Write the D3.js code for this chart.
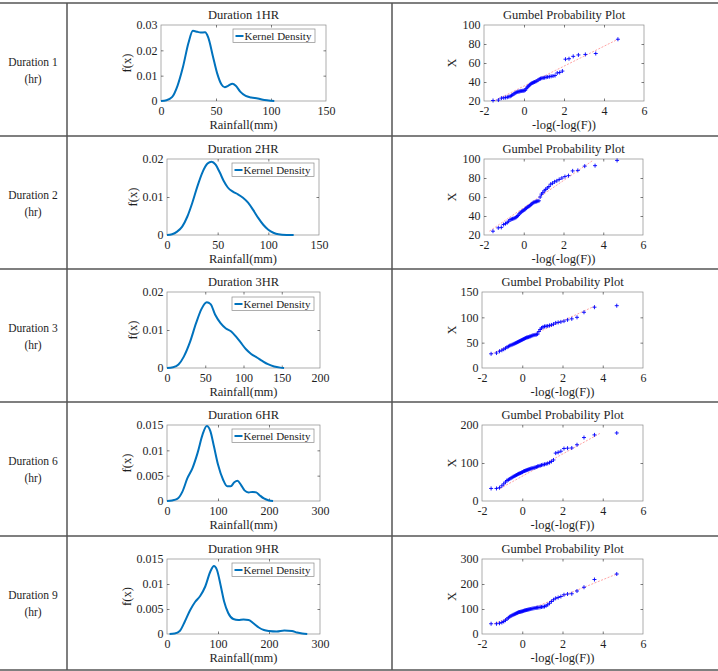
<!DOCTYPE html>
<meta charset="utf-8">
<style>
body { margin: 0; background: #fff; }
svg text { font-family: "Liberation Serif", "Times New Roman", serif; fill: #1e1e1e; }
.tick line { stroke: #262626; stroke-width: 0.6; }
</style>
<body>
<script src="https://cdn.jsdelivr.net/npm/d3@7"></script>
<script>

// ---- data ----
var rowLabels = ["Duration 1", "Duration 2", "Duration 3", "Duration 6", "Duration 9"];
var kdeTitles = ["Duration 1HR", "Duration 2HR", "Duration 3HR", "Duration 6HR", "Duration 9HR"];

// kernel density curves: [rainfall (mm), f(x)]
var kde1 = [[0,0],[5,0.0003],[10,0.0015],[15,0.006],[20,0.0135],[25,0.023],[29,0.0277],[33,0.0273],[36,0.027],[40,0.0271],[43,0.025],[47,0.018],[51,0.011],[55,0.0065],[58,0.0054],[61,0.006],[65,0.0068],[68,0.006],[72,0.0037],[77,0.002],[82,0.0014],[88,0.001],[94,0.0004],[100,0.0001],[103,0]];
var kde2 = [[0,0],[5,0.0002],[10,0.0009],[15,0.0022],[20,0.0048],[25,0.0085],[30,0.0128],[35,0.0165],[40,0.0188],[44,0.0193],[48,0.0185],[52,0.0165],[56,0.0142],[60,0.0125],[65,0.0114],[70,0.0107],[75,0.0098],[80,0.0085],[85,0.0066],[90,0.0045],[95,0.0027],[100,0.0014],[105,0.0006],[110,0.0002],[118,0.00003],[125,0]];
var kde3 = [[0,0],[8,0.0002],[15,0.0009],[22,0.003],[30,0.0068],[38,0.0118],[45,0.0155],[52,0.0173],[57,0.0168],[63,0.014],[70,0.0118],[77,0.0104],[84,0.0096],[90,0.0083],[96,0.0068],[103,0.005],[110,0.0037],[118,0.0027],[125,0.0018],[132,0.001],[140,0.0004],[148,0.0001],[153,0]];
var kde6 = [[0,0],[10,0.0001],[20,0.0004],[30,0.0018],[40,0.0045],[50,0.0065],[60,0.0095],[70,0.0132],[78,0.0148],[85,0.0138],[92,0.0108],[100,0.0072],[110,0.0042],[118,0.0029],[125,0.0029],[132,0.0037],[138,0.004],[145,0.0032],[152,0.0021],[160,0.0017],[168,0.0018],[175,0.0017],[182,0.0011],[190,0.0005],[200,0.0001],[208,0]];
var kde9 = [[5,0],[15,0.0001],[25,0.0006],[35,0.0025],[45,0.0047],[55,0.0064],[65,0.0076],[75,0.0095],[85,0.0125],[92,0.0136],[98,0.0128],[105,0.0098],[112,0.0065],[120,0.0042],[130,0.003],[140,0.0028],[150,0.0029],[160,0.0028],[170,0.0021],[180,0.0013],[190,0.0008],[200,0.0006],[215,0.0005],[230,0.0007],[245,0.0006],[255,0.0003],[265,0.0001],[275,0]];

// Gumbel reduced variate -log(-log(F)) of the 55 ranked values
var reducedVariate = [-1.548,-1.281,-1.129,-1.013,-0.918,-0.834,-0.759,-0.689,-0.625,-0.563,-0.504,-0.448,-0.393,-0.340,-0.288,-0.236,-0.186,-0.136,-0.086,-0.036,0.013,0.063,0.112,0.162,0.212,0.263,0.314,0.367,0.419,0.473,0.528,0.585,0.642,0.702,0.763,0.826,0.892,0.960,1.031,1.106,1.184,1.267,1.356,1.450,1.552,1.663,1.784,1.920,2.073,2.250,2.461,2.721,3.068,3.588,4.696];

// ranked annual maximum rainfall X (mm)
var gumbel1 = [20.5,21,23,23.3,23.6,24,24.5,25,25.8,26.5,27.5,28.3,29,29.5,29.8,30,30.3,30.5,30.7,30.8,31,31.5,33,34.5,35.5,36.5,37.5,38.5,39,39.5,40,40.5,41,42,43,43.5,44,44.3,44.6,45,45.3,45.6,46,46.3,46.8,49.5,50,51.5,64,64.5,67,68.5,69,70,85];
var gumbel2 = [24,27.5,28,31,32,33,34.5,36,36.5,37,37.3,37.8,38.5,39.5,40.5,42,43,44,45,45.5,46.3,47,48,49,49.5,50.3,51,52,53,54,54.5,55,55.3,55.6,56,60,63,64.5,66.5,68,69.5,71,73.5,74.5,76,77,78.5,80,81.5,82.5,87.5,88,92.5,93,98.5];
var gumbel3 = [28,29.5,33,35,37,39,41,42.5,44,45,46,47,48,49,50,51,52,53,54,55,56,57,58,59,60,60.5,61,62,62.5,63.5,64.5,65,65.5,66,67,72,76,79,81,82,82.5,83,84,85,86.5,89,90,91,92.5,95,97,100,110,120,123];
var gumbel6 = [33,33,35,40,45,50,54,56,58,60,62,64,65.5,67,68.5,70,71.5,72.5,73.5,75,76,78,79,80,81,82,83,84,85,86,86.5,87.5,88.5,89.5,91,92,93,94.5,95.5,96.5,97.5,99,101,104,108,126,128,131,138,139,139.5,148,167,174,179];
var gumbel9 = [41,41,43,46,50,55,60,65,69,72,75,77,79,81,83,85,87,88,89,90,91,92.5,94,95,96,97,98,99,100,101,102,103,104,105,105.5,106,107,108,109,110,113,117,123,130,137,143,146,150,157,160,161,172,187,218,240];

// reference line end points [reduced variate, X]
var refLine1 = [[-1.45,20.5],[4.70,85]];
var refLine2 = [[-1.73,24],[3.48,98.5]];
var refLine3 = [[-1.52,28],[3.64,123]];
var refLine6 = [[-1.10,33],[3.90,179]];
var refLine9 = [[-1.40,41],[4.70,240]];

// ticks
var kdeXTicks = [[0,50,100,150],[0,50,100,150],[0,50,100,150,200],[0,100,200,300],[0,100,200,300]];
var kdeYTicks = [[0,0.01,0.02,0.03],[0,0.01,0.02],[0,0.01,0.02],[0,0.005,0.01,0.015],[0,0.005,0.01,0.015]];
var gumXTicks = [-2,0,2,4,6];
var gumYTicks = [[20,40,60,80,100],[20,40,60,80,100],[0,50,100,150],[0,100,200],[0,100,200,300]];

var kdeData = [kde1, kde2, kde3, kde6, kde9];
var gumData = [gumbel1, gumbel2, gumbel3, gumbel6, gumbel9];
var refLines = [refLine1, refLine2, refLine3, refLine6, refLine9];

// ---- layout (pixels) ----
var rowY = [3, 136, 269, 402, 536, 670];
var kdeBox = [
  {l:161, r:326, t:25,  b:101, lx:233, ly:29,  fy:127},
  {l:167, r:319, t:159, b:235, lx:232, ly:163, fy:133},
  {l:167, r:320, t:292, b:368, lx:232, ly:297, fy:133},
  {l:167, r:320, t:425, b:501, lx:232, ly:429, fy:127},
  {l:167, r:320, t:559, b:634, lx:232, ly:563, fy:127}
];
var gumBox = [
  {l:484, r:644, t:25,  b:101},
  {l:484, r:643, t:159, b:235},
  {l:482, r:643, t:292, b:368},
  {l:482, r:643, t:425, b:501},
  {l:482, r:643, t:559, b:634}
];

var svg = d3.select("body").append("svg")
    .attr("width", 718)
    .attr("height", 671);

// table rules
svg.selectAll("line.row")
    .data(rowY)
  .enter().append("line")
    .attr("x1", 0).attr("x2", 718)
    .attr("y1", function(d) { return d; })
    .attr("y2", function(d) { return d; })
    .attr("stroke", "#555").attr("stroke-width", 1.5);

[67, 392].forEach(function(x) {
  svg.append("line")
      .attr("x1", x).attr("x2", x)
      .attr("y1", rowY[0]).attr("y2", rowY[5])
      .attr("stroke", "#555").attr("stroke-width", 1.5);
});

// row labels
rowLabels.forEach(function(lab, i) {
  svg.append("text").attr("x", 33).attr("y", rowY[i] + 63)
      .attr("text-anchor", "middle").style("font-size", "11.5px").text(lab);
  svg.append("text").attr("x", 33).attr("y", rowY[i] + 80)
      .attr("text-anchor", "middle").style("font-size", "11.5px").text("(hr)");
});

function fmt(d) { return String(d); }

function frame(g, box, x, y, xt, yt) {
  g.append("rect")
      .attr("x", box.l).attr("y", box.t)
      .attr("width", box.r - box.l).attr("height", box.b - box.t)
      .attr("fill", "none").attr("stroke", "#8a8a8a").attr("stroke-width", 0.7);

  var xa = g.append("g").attr("transform", "translate(0," + box.b + ")")
      .call(d3.axisBottom(x).tickValues(xt).tickSize(-2.5).tickPadding(5.5).tickFormat(fmt));
  var xa2 = g.append("g").attr("transform", "translate(0," + box.t + ")")
      .call(d3.axisTop(x).tickValues(xt).tickSize(-2.5).tickFormat(""));
  var ya = g.append("g").attr("transform", "translate(" + box.l + ",0)")
      .call(d3.axisLeft(y).tickValues(yt).tickSize(-2.5).tickPadding(3.5).tickFormat(fmt));
  var ya2 = g.append("g").attr("transform", "translate(" + box.r + ",0)")
      .call(d3.axisRight(y).tickValues(yt).tickSize(-2.5).tickFormat(""));

  [xa, xa2, ya, ya2].forEach(function(a) {
    a.select(".domain").remove();
    a.selectAll("text").style("font-size", "12px").attr("fill", "#1e1e1e")
        .style("font-family", "'Liberation Serif', serif");
  });
  // drop end ticks that sit on the frame
  [xa, xa2].forEach(function(a) {
    a.selectAll(".tick line").filter(function(d) { return d === xt[0] || d === xt[xt.length - 1]; }).remove();
  });
  [ya, ya2].forEach(function(a) {
    a.selectAll(".tick line").filter(function(d) { return d === yt[0] || d === yt[yt.length - 1]; }).remove();
  });
}

// ---- kernel density panels ----
kdeData.forEach(function(data, i) {
  var box = kdeBox[i];
  var xt = kdeXTicks[i], yt = kdeYTicks[i];
  var x = d3.scaleLinear().domain([xt[0], xt[xt.length - 1]]).range([box.l, box.r]);
  var y = d3.scaleLinear().domain([yt[0], yt[yt.length - 1]]).range([box.b, box.t]);
  var g = svg.append("g");

  frame(g, box, x, y, xt, yt);

  g.append("path")
      .datum(data)
      .attr("fill", "none")
      .attr("stroke", "#0072BD")
      .attr("stroke-width", 2)
      .attr("d", d3.line()
          .curve(d3.curveMonotoneX)
          .x(function(d) { return x(d[0]); })
          .y(function(d) { return y(d[1]); }));

  g.append("text").attr("x", (box.l + box.r) / 2).attr("y", box.t - 6)
      .attr("text-anchor", "middle").style("font-size", "12.5px").text(kdeTitles[i]);
  g.append("text").attr("x", (box.l + box.r) / 2).attr("y", box.b + 28)
      .attr("text-anchor", "middle").style("font-size", "12.5px").text("Rainfall(mm)");
  g.append("text")
      .attr("transform", "translate(" + box.fy + "," + (box.t + box.b) / 2 + ") rotate(-90)")
      .attr("dy", "0.35em")
      .attr("text-anchor", "middle").style("font-size", "12.5px").text("f(x)");

  // legend
  var lg = g.append("g").attr("transform", "translate(" + box.lx + "," + box.ly + ")");
  lg.append("rect").attr("width", 82).attr("height", 13.5)
      .attr("fill", "#fff").attr("stroke", "#8a8a8a").attr("stroke-width", 0.7);
  lg.append("line").attr("x1", 2.5).attr("x2", 10.5).attr("y1", 7).attr("y2", 7)
      .attr("stroke", "#0072BD").attr("stroke-width", 2);
  lg.append("text").attr("x", 11.5).attr("y", 10.5).style("font-size", "11px").text("Kernel Density");
});

// ---- Gumbel probability panels ----
gumData.forEach(function(vals, i) {
  var box = gumBox[i];
  var yt = gumYTicks[i];
  var x = d3.scaleLinear().domain([-2, 6]).range([box.l, box.r]);
  var y = d3.scaleLinear().domain([yt[0], yt[yt.length - 1]]).range([box.b, box.t]);
  var g = svg.append("g");

  frame(g, box, x, y, gumXTicks, yt);

  var ref = refLines[i];
  g.append("line")
      .attr("x1", x(ref[0][0])).attr("y1", y(ref[0][1]))
      .attr("x2", x(ref[1][0])).attr("y2", y(ref[1][1]))
      .attr("stroke", "#ff3030").attr("stroke-width", 0.8)
      .attr("stroke-dasharray", "2,1.5").attr("opacity", 0.55);

  g.selectAll("path.pt")
      .data(vals)
    .enter().append("path")
      .attr("d", function(d, k) {
        var px = x(reducedVariate[k]), py = y(d);
        return "M" + (px - 2) + "," + py + "h4M" + px + "," + (py - 2) + "v4";
      })
      .attr("stroke", "#0000ff").attr("stroke-width", 0.9).attr("fill", "none");

  g.append("text").attr("x", (box.l + box.r) / 2).attr("y", box.t - 6)
      .attr("text-anchor", "middle").style("font-size", "12.5px").text("Gumbel Probability Plot");
  g.append("text").attr("x", (box.l + box.r) / 2).attr("y", box.b + 28)
      .attr("text-anchor", "middle").style("font-size", "12.5px").text("-log(-log(F))");
  g.append("text")
      .attr("transform", "translate(452," + (box.t + box.b) / 2 + ") rotate(-90)")
      .attr("dy", "0.35em")
      .attr("text-anchor", "middle").style("font-size", "12.5px").text("X");
});

</script>
</body>
